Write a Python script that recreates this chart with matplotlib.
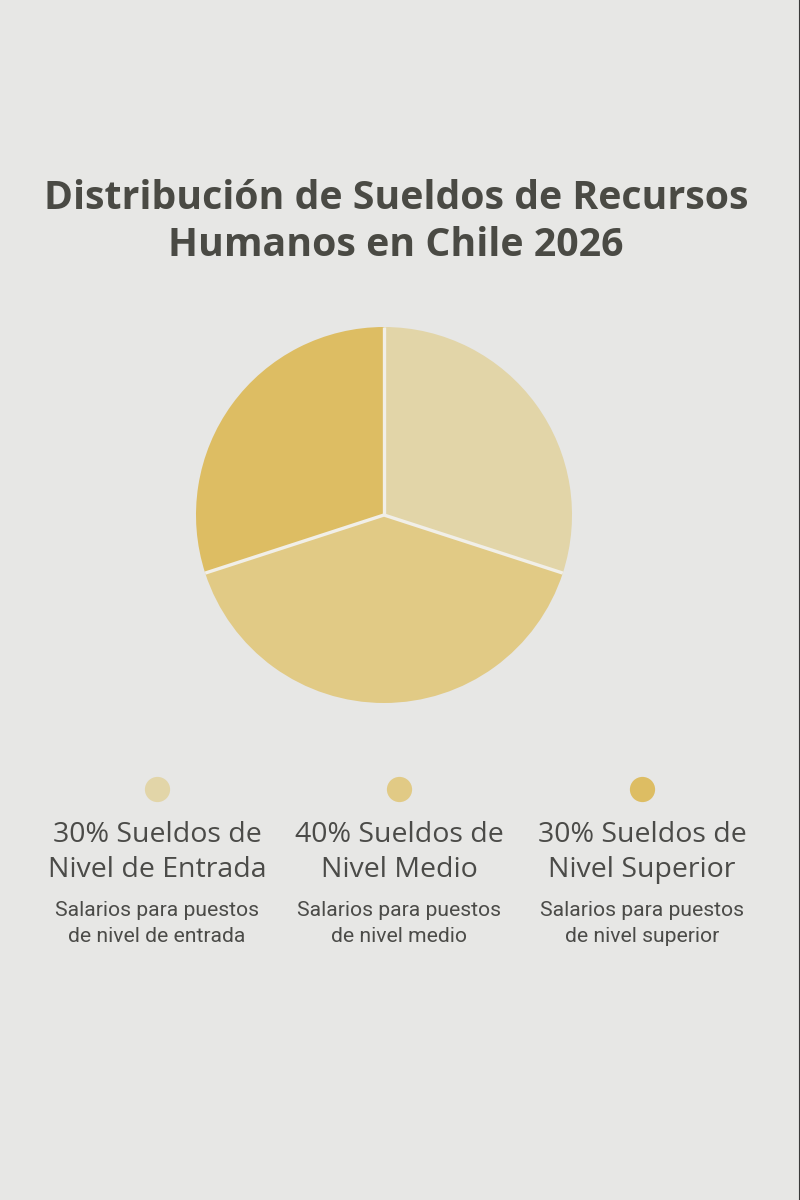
import matplotlib
matplotlib.use("Agg")
import matplotlib.pyplot as plt
import numpy as np

title = "Distribución de Sueldos de Recursos\nHumanos en Chile 2026"
categories = ["Sueldos de Nivel de Entrada", "Sueldos de Nivel Medio", "Sueldos de Nivel Superior"]
values = [30, 40, 30]
legend_labels = ["30% Sueldos de\nNivel de Entrada", "40% Sueldos de\nNivel Medio", "30% Sueldos de\nNivel Superior"]
descriptions = ["Salarios para puestos\nde nivel de entrada",
                "Salarios para puestos\nde nivel medio",
                "Salarios para puestos\nde nivel superior"]
colors = ["#e2d5a8", "#e1ca85", "#ddbd63"]

BG = "#e7e7e5"
W, H = 800, 1200
fig = plt.figure(figsize=(8, 12), dpi=100, facecolor=BG)

# title
fig.text(396 / W, 1 - 222 / H, title, ha="center", va="center",
         fontsize=28.3, fontweight="bold", family=["Open Sans", "DejaVu Sans"],
         color="#4a4a44", linespacing=1.25)

# pie
cx, cy, r = 384, 515, 188
ax = fig.add_axes([(cx - r) / W, 1 - (cy + r) / H, 2 * r / W, 2 * r / H])
ax.set_facecolor(BG)
ax.pie(values, colors=colors, startangle=90, counterclock=False, radius=1,
       wedgeprops=dict(linewidth=0))
# separators between slices (boundaries from the cumulative values)
bounds = np.cumsum([0] + values[:-1]) / np.sum(values)
for b in bounds:
    ang = np.deg2rad(90 - 360 * b)
    ax.plot([0, np.cos(ang)], [0, np.sin(ang)], color="#f1efe8", linewidth=2.4,
            solid_capstyle="butt")
ax.set_xlim(-1, 1)
ax.set_ylim(-1, 1)
ax.set_aspect("equal")
ax.axis("off")

# legend overlay
ov = fig.add_axes([0, 0, 1, 1])
ov.set_xlim(0, W)
ov.set_ylim(H, 0)
ov.axis("off")
ov.patch.set_alpha(0)
xs = [157, 399, 642]
for x, c, lab, desc in zip(xs, colors, legend_labels, descriptions):
    ov.scatter([x], [789], s=330, color=c, linewidths=0)
    ov.text(x, 852.5, lab, ha="center", va="center", fontsize=20.5,
            family=["Open Sans", "DejaVu Sans"], color="#4b4b48", linespacing=1.34)
    ov.text(x, 923.5, desc, ha="center", va="center", fontsize=15.2,
            family=["Roboto", "DejaVu Sans"], color="#4b4b48", linespacing=1.42)

# right border line
ov.plot([799.3, 799.3], [0, H], color="#3a3a3a", linewidth=0.8)

fig.savefig("out.png", dpi=100, facecolor=BG)
